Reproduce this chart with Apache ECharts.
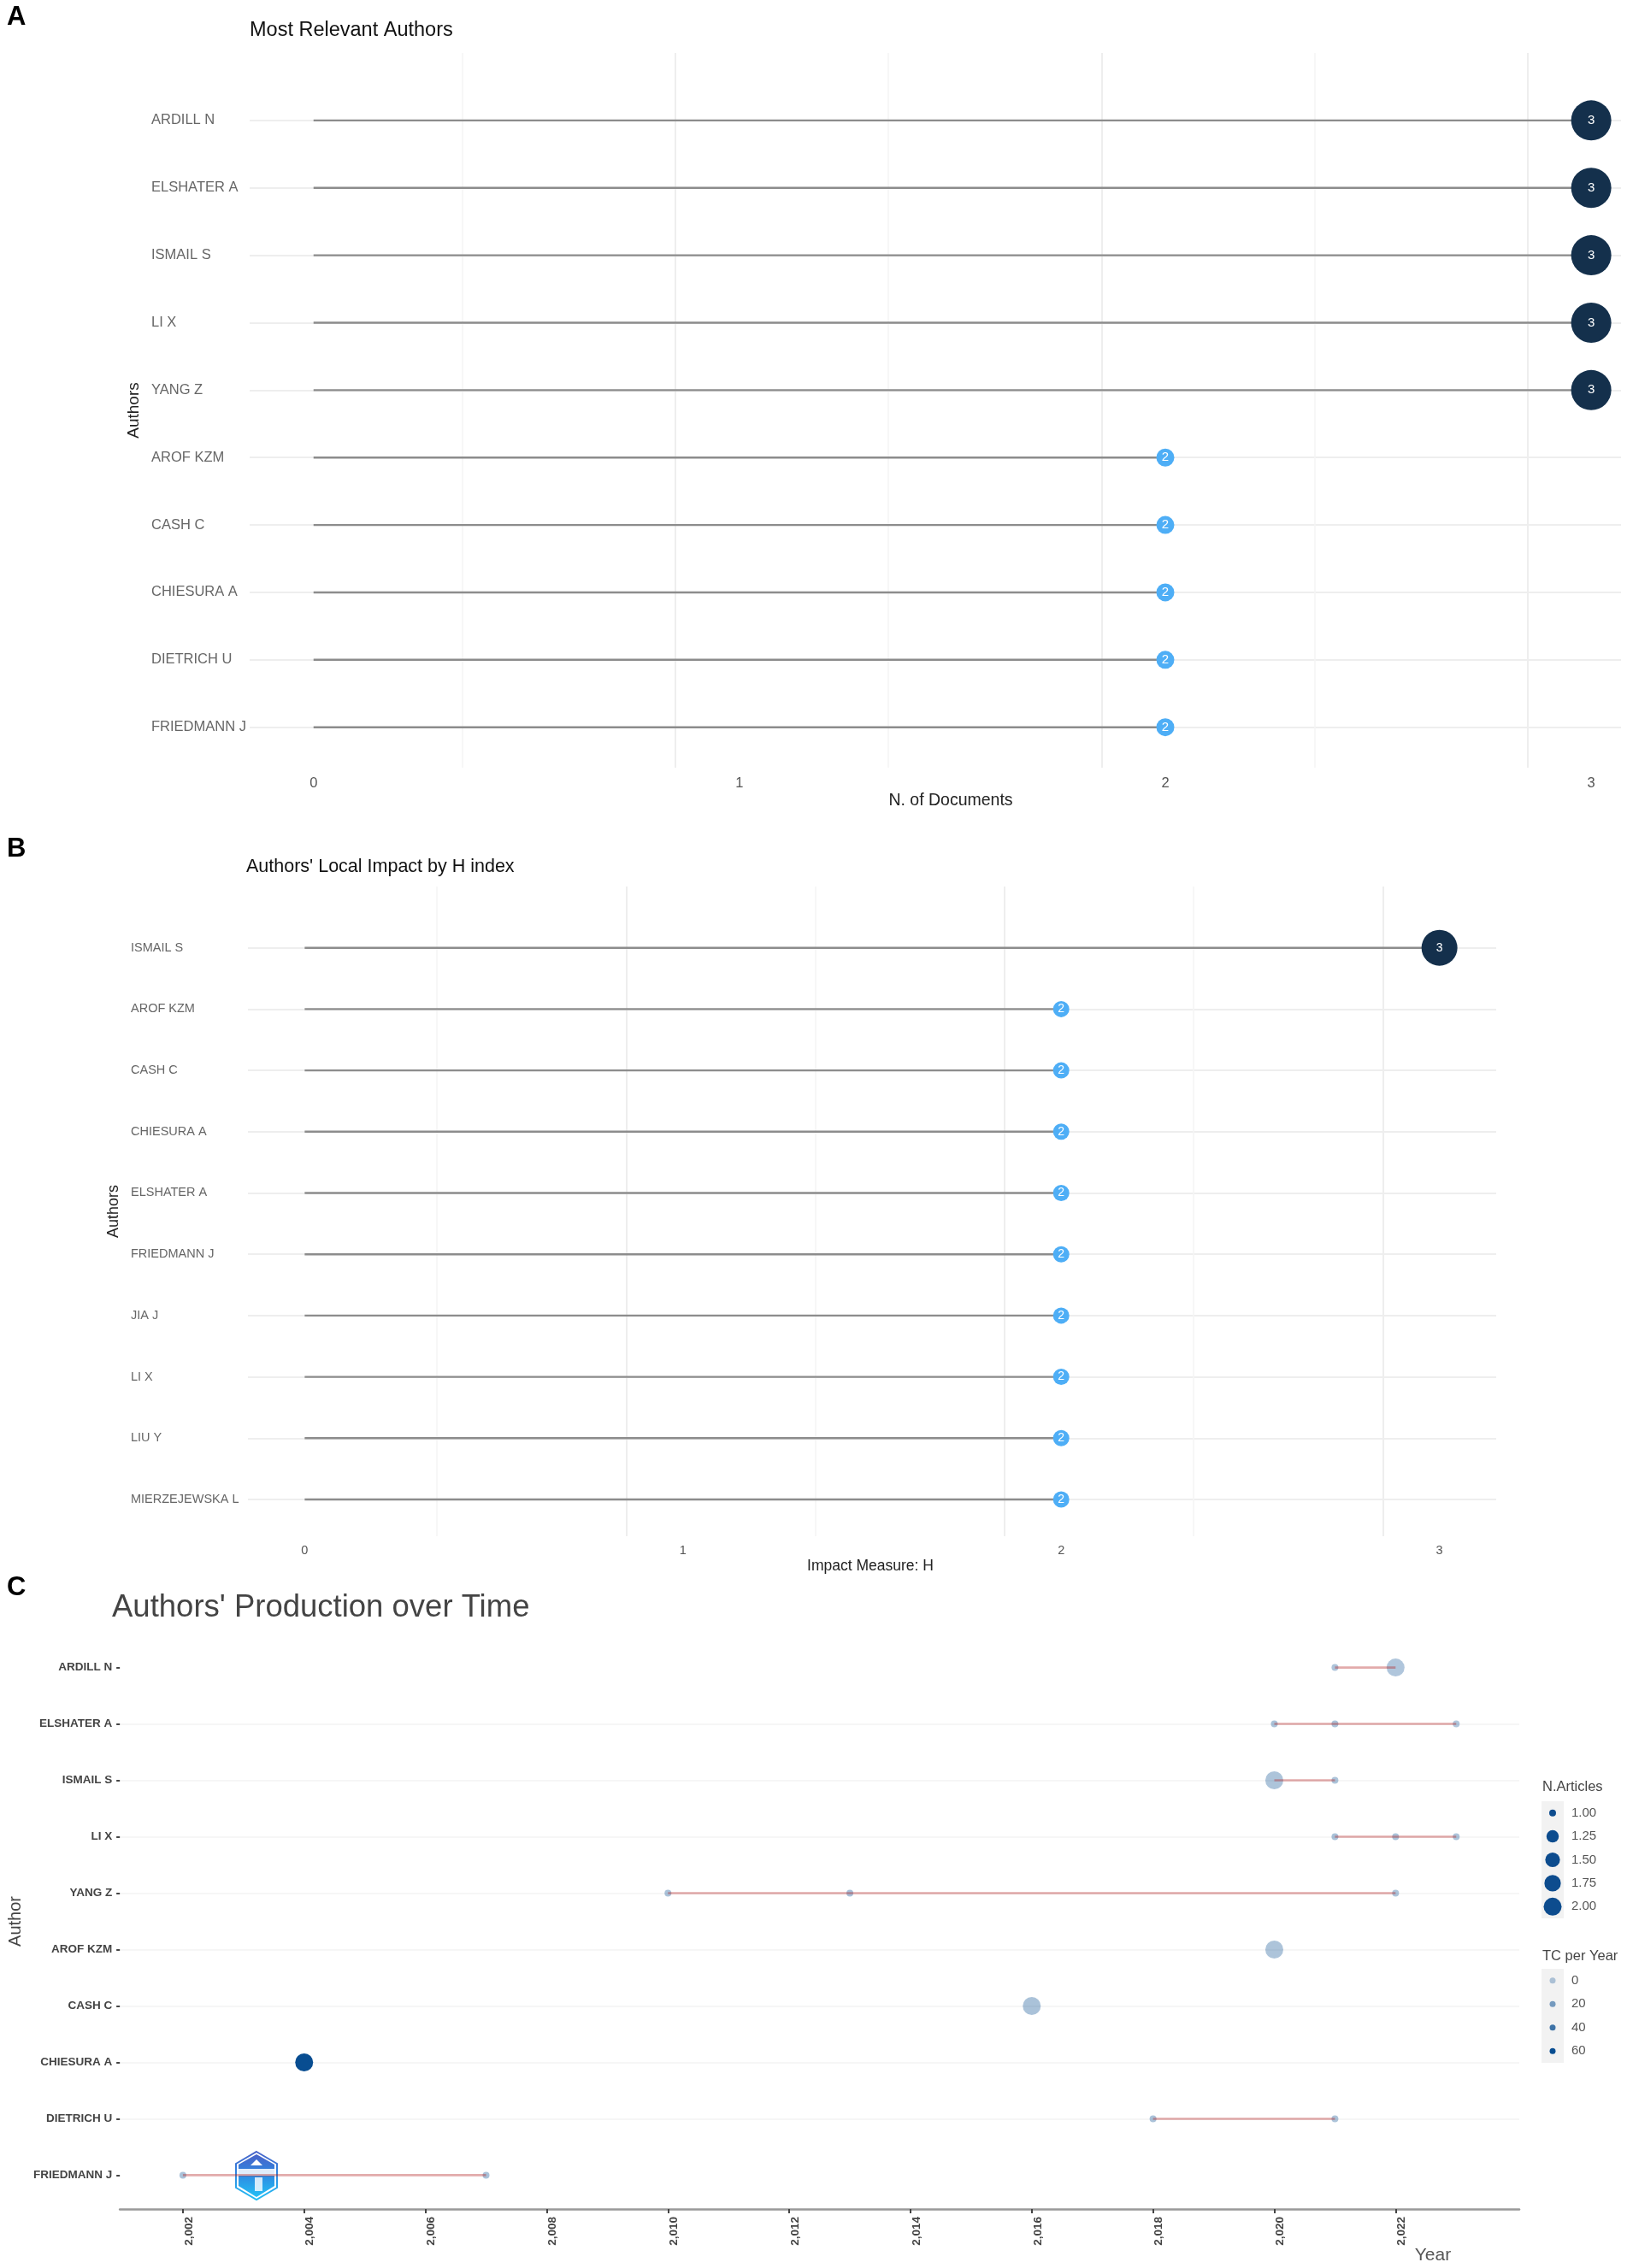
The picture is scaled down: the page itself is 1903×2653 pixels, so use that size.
<!DOCTYPE html>
<html><head><meta charset="utf-8">
<script src="https://cdn.jsdelivr.net/npm/echarts@6/dist/echarts.min.js"></script>
<style>html,body{margin:0;padding:0;background:#fff}#c{width:1903px;height:2653px}</style>
</head><body><div id="c"></div>
<script>
// ---- data ----
const authorsA = ['ARDILL N','ELSHATER A','ISMAIL S','LI X','YANG Z','AROF KZM','CASH C','CHIESURA A','DIETRICH U','FRIEDMANN J'];
const docsA = [3,3,3,3,3,2,2,2,2,2];
const authorsB = ['ISMAIL S','AROF KZM','CASH C','CHIESURA A','ELSHATER A','FRIEDMANN J','JIA J','LI X','LIU Y','MIERZEJEWSKA L'];
const hIndexB = [3,2,2,2,2,2,2,2,2,2];
const authorsC = authorsA;
// one row per author: [year, N.Articles, TC per year]
const prodC = [
  [[2021,1,3],[2022,2,2]],
  [[2020,1,4],[2021,1,4],[2023,1,2]],
  [[2020,2,3],[2021,1,3]],
  [[2021,1,4],[2022,1,4],[2023,1,3]],
  [[2010,1,4],[2013,1,5],[2022,1,3]],
  [[2020,2,3]],
  [[2016,2,4]],
  [[2004,2,64]],
  [[2018,1,4],[2021,1,3]],
  [[2002,1,4],[2007,1,4]]
];
const legendArticles = [1,1.25,1.5,1.75,2];
const legendTC = [0,20,40,60];
const yearTicks = [2002,2004,2006,2008,2010,2012,2014,2016,2018,2020,2022];

// ---- helpers ----
const FONT = '"Liberation Sans", Arial, sans-serif';
const tcColor = tc => `rgba(8,77,145,${(0.3 + 0.7*tc/60).toFixed(3)})`;
const nSize = n => 8 + 13*Math.sqrt(n-1);
const text = (s,x,y,size,fill,extra={}) => ({type:'text',x,y,silent:true,z:50,style:Object.assign({text:s,fill,font:`${extra.weight||'normal'} ${size}px ${FONT}`,textAlign:extra.align||'left',textVerticalAlign:'middle'},{})});

const grids=[], xAxes=[], yAxes=[], series=[];
function lollipop(cfg){
  const gi = grids.length;
  grids.push({left:cfg.left,width:cfg.width,top:cfg.top,height:cfg.height});
  xAxes.push({type:'value',gridIndex:gi,min:-0.15,max:cfg.xmax,interval:1,
    axisLine:{show:false},axisTick:{show:false},
    axisLabel:{customValues:[0,1,2,3],color:'#555',fontFamily:FONT,fontSize:cfg.font,margin:cfg.xMargin},
    splitLine:{show:true,showMinLine:false,showMaxLine:false,lineStyle:{color:'#eeeeee',width:2}},
    minorTick:{show:false,splitNumber:2},
    minorSplitLine:{show:true,lineStyle:{color:'#f5f5f5',width:1.5}}});
  yAxes.push({type:'value',gridIndex:gi,inverse:true,min:-1,max:9.6,interval:1,
    name:'Authors',nameLocation:'middle',nameGap:cfg.nameGap,nameRotate:90,
    nameTextStyle:{color:'#222',fontFamily:FONT,fontSize:cfg.nameFont},
    axisLine:{show:false},axisTick:{show:false},
    axisLabel:{customValues:cfg.names.map((_,i)=>i),formatter:v=>cfg.names[v]||'',align:'left',margin:cfg.labelMargin,color:'#666',fontFamily:FONT,fontSize:cfg.font},
    splitLine:{show:true,showMinLine:false,showMaxLine:false,lineStyle:{color:'#eeeeee',width:2}},
    minorSplitLine:{show:false}});
  cfg.values.forEach((v,i)=>series.push({type:'line',xAxisIndex:gi,yAxisIndex:gi,data:[[0,i],[v,i]],symbol:'none',silent:true,z:3,lineStyle:{color:'#8c8c8c',width:2.4}}));
  series.push({type:'scatter',xAxisIndex:gi,yAxisIndex:gi,z:5,silent:true,
    data:cfg.values.map((v,i)=>[v,i]),
    symbolSize:d=>d[0]>=3?cfg.big:cfg.small,
    itemStyle:{color:p=>p.value[0]>=3?'#14304c':'#4eaef6',opacity:1},
    label:{show:true,position:'inside',formatter:p=>p.value[0],color:'#fff',fontFamily:FONT,
      rich:{},fontSize:cfg.lab}});
}
lollipop({names:authorsA,values:docsA,left:292,width:1604,top:62,height:836,xmax:3.07,font:16.5,xMargin:10,labelMargin:115,nameGap:124,nameFont:19,big:47,small:21,lab:15});
lollipop({names:authorsB,values:hIndexB,left:290,width:1460,top:1037,height:760,xmax:3.15,font:14.5,xMargin:9,labelMargin:137,nameGap:144,nameFont:18,big:42,small:19,lab:14});

// panel C
const gc = grids.length;
grids.push({left:132,width:1645,top:1911,height:673});
xAxes.push({type:'value',gridIndex:gc,min:2000.96,max:2024.04,interval:2,
  axisLine:{show:true,onZero:false,lineStyle:{color:'#999',width:2.5}},
  axisTick:{show:true,customValues:yearTicks,length:5,lineStyle:{color:'#444',width:2}},
  axisLabel:{customValues:yearTicks,rotate:90,verticalAlign:'top',margin:9,color:'#444',fontFamily:FONT,fontSize:13.5,fontWeight:'bold'},
  splitLine:{show:false}});
yAxes.push({type:'value',gridIndex:gc,inverse:true,min:-0.6,max:9.6,interval:1,
  name:'Author',nameLocation:'middle',nameGap:104,nameRotate:90,
  nameTextStyle:{color:'#444',fontFamily:FONT,fontSize:20},
  axisLine:{show:false},
  axisTick:{show:true,customValues:authorsC.map((_,i)=>i),length:4,lineStyle:{color:'#444',width:2}},
  axisLabel:{customValues:authorsC.map((_,i)=>i),formatter:v=>authorsC[v]||'',margin:9,color:'#444',fontFamily:FONT,fontSize:13.5,fontWeight:'bold'},
  splitLine:{show:true,showMinLine:false,showMaxLine:false,lineStyle:{color:'#f3f3f3',width:1.5}}});
const prodPoints = [];
prodC.forEach((row,i)=>{
  row.forEach(p=>prodPoints.push([p[0],i,p[1],p[2]]));
  if(row.length>1) series.push({type:'line',xAxisIndex:gc,yAxisIndex:gc,silent:true,z:6,symbol:'none',
    data:[[row[0][0],i],[row[row.length-1][0],i]],lineStyle:{color:'rgba(178,34,34,0.38)',width:2.6}});
});
series.push({type:'scatter',xAxisIndex:gc,yAxisIndex:gc,z:5,silent:true,data:prodPoints,
  symbolSize:d=>nSize(d[2]),itemStyle:{color:p=>tcColor(p.value[3]),opacity:1}});

// legends as small real axes
function legendGrid(top,height,labels,sizeFn,colorFn){
  const g = grids.length;
  grids.push({left:1803,width:26,top,height,show:true,backgroundColor:'#f2f2f2',borderWidth:0});
  xAxes.push({type:'value',gridIndex:g,min:-1,max:1,show:false});
  yAxes.push({type:'category',gridIndex:g,inverse:true,position:'right',data:labels.map(String),
    axisLine:{show:false},axisTick:{show:false},splitLine:{show:false},
    axisLabel:{margin:9,color:'#555',fontFamily:FONT,fontSize:15}});
  series.push({type:'scatter',xAxisIndex:g,yAxisIndex:g,silent:true,
    data:labels.map((v,i)=>({value:[0,i],symbolSize:sizeFn(v),itemStyle:{color:colorFn(v),opacity:1}}))});
}
legendGrid(2107,137,legendArticles.map(v=>v.toFixed(2)),v=>nSize(+v),()=>'#0d4c8e');
legendGrid(2303,110,legendTC,()=>7,v=>tcColor(v));

// hexagon logo in panel C
const logoGrad = {type:'linear',x:0,y:0,x2:0,y2:1,colorStops:[{offset:0,color:'#4a62c8'},{offset:0.45,color:'#2f86e0'},{offset:1,color:'#22c0f5'}]};
const logo = {type:'group',x:300,y:2545,z:60,silent:true,children:[
  {type:'polygon',shape:{points:[[0,-28],[24,-14],[24,14],[0,28],[-24,14],[-24,-14]]},style:{fill:'#fff',stroke:logoGrad,lineWidth:2}},
  {type:'polygon',shape:{points:[[0,-25],[21,-13],[21,12],[0,25],[-21,12],[-21,-13]]},style:{fill:logoGrad}},
  {type:'rect',shape:{x:-21,y:-8,width:42,height:8},style:{fill:'#fff',opacity:0.85}},
  {type:'polygon',shape:{points:[[0,-19],[7,-12],[-7,-12]]},style:{fill:'#fff'}},
  {type:'rect',shape:{x:-2,y:2,width:9,height:16},style:{fill:'#fff',opacity:0.8}}
]};

const option = {
  animation:false, backgroundColor:'#fff', tooltip:{show:false}, legend:{show:false},
  textStyle:{fontFamily:FONT},
  title:[
    {text:'Most Relevant Authors',left:292,top:24,textStyle:{fontFamily:FONT,fontWeight:'normal',fontSize:23.5,color:'#111'},padding:0},
    {text:"Authors' Local Impact by H index",left:288,top:1003,textStyle:{fontFamily:FONT,fontWeight:'normal',fontSize:21.5,color:'#111'},padding:0},
    {text:"Authors' Production over Time",left:131,top:1862,textStyle:{fontFamily:FONT,fontWeight:'normal',fontSize:36.5,color:'#444'},padding:0}
  ],
  grid:grids, xAxis:xAxes, yAxis:yAxes, series,
  graphic:{elements:[
    text('A',8,20,31,'#000',{weight:'bold'}),
    text('B',8,993,31,'#000',{weight:'bold'}),
    text('C',8,1857,31,'#000',{weight:'bold'}),
    text('N. of Documents',1112,937,19.5,'#222',{align:'center'}),
    text('Impact Measure: H',1018,1832,17.5,'#222',{align:'center'}),
    text('Year',1676,2638,21,'#555',{align:'center'}),
    text('N.Articles',1804,2090,16.5,'#444'),
    text('TC per Year',1804,2288,16.5,'#444'),
    logo
  ]}
};
const chart = echarts.init(document.getElementById('c'),null,{renderer:'canvas',width:1903,height:2653});
chart.setOption(option);
</script></body></html>
